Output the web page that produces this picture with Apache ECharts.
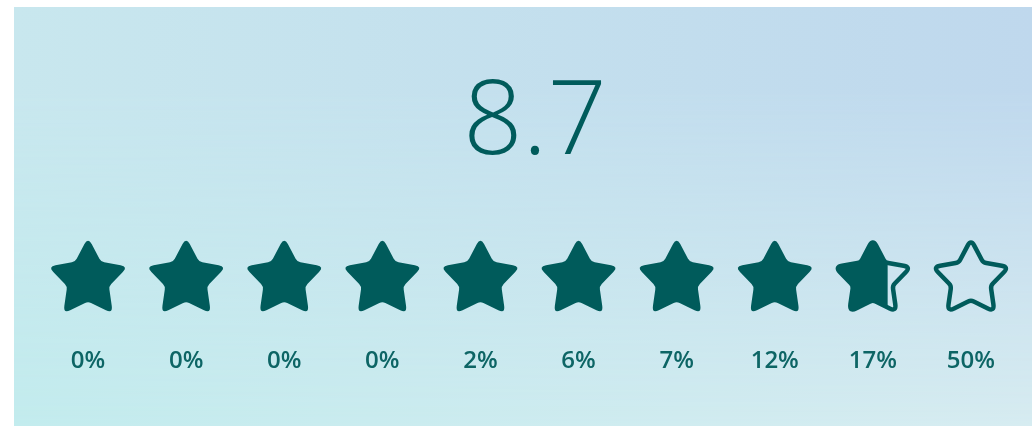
<!DOCTYPE html>
<html>
<head>
<meta charset="utf-8">
<script src="https://cdn.jsdelivr.net/npm/echarts@6/dist/echarts.min.js"></script>
<style>
  html, body { margin: 0; padding: 0; background: #fff; }
  #card {
    position: absolute; left: 14px; top: 7px; width: 1018px; height: 419px;
    background: linear-gradient(to right, #c3ecee, #d7ecf1);
    overflow: hidden;
  }
  #card::before {
    content: ""; position: absolute; inset: 0;
    background: linear-gradient(to right, #c8e7ee, #bfd8ed);
    -webkit-mask-image: linear-gradient(to bottom, #000 0%, #000 20%, transparent 100%);
    mask-image: linear-gradient(to bottom, #000 0%, #000 20%, transparent 100%);
  }
  #chart { position: absolute; left: 0; top: 0; width: 1018px; height: 419px; }
</style>
</head>
<body>
<div id="card"><div id="chart"></div></div>
<script>
// rating buckets 1..10 and the share shown under each star
const levels = ["1", "2", "3", "4", "5", "6", "7", "8", "9", "10"];
const shares = ["0%", "0%", "0%", "0%", "2%", "6%", "7%", "12%", "17%", "50%"];
// how much of each star is filled
const starFill = [1, 1, 1, 1, 1, 1, 1, 1, 0.7, 0];
const score = "8.7";

const TEAL = "#005b5b";
const STAR_W = 74;
const STAR_H = 72;

// rounded five-point star, built once as an svg path
function starPath() {
  const pts = [];
  for (let i = 0; i < 10; i++) {
    const r = i % 2 === 0 ? 1 : 0.52;
    const a = -Math.PI / 2 + (i * Math.PI) / 5;
    pts.push([r * Math.cos(a), r * Math.sin(a)]);
  }
  let d = "";
  for (let i = 0; i < 10; i++) {
    const v = pts[i];
    const p = pts[(i + 9) % 10];
    const n = pts[(i + 1) % 10];
    const t = i % 2 === 0 ? 0.28 : 0.12;
    const a = [v[0] + (p[0] - v[0]) * t, v[1] + (p[1] - v[1]) * t];
    const b = [v[0] + (n[0] - v[0]) * t, v[1] + (n[1] - v[1]) * t];
    d += (i === 0 ? "M" : "L") + a[0].toFixed(4) + " " + a[1].toFixed(4);
    d += "Q" + v[0].toFixed(4) + " " + v[1].toFixed(4) + " " + b[0].toFixed(4) + " " + b[1].toFixed(4);
  }
  return d + "Z";
}
const STAR = starPath();

const chart = echarts.init(document.getElementById("chart"));
chart.setOption({
  animation: false,
  title: {
    text: score,
    left: 516,
    top: 60,
    textAlign: "center",
    textStyle: { color: TEAL, fontSize: 104, fontWeight: 300, fontFamily: "Open Sans" },
  },
  grid: { left: 25, right: 12, top: 208, bottom: 89 },
  xAxis: {
    type: "category",
    data: levels,
    axisLine: { show: false },
    axisTick: { show: false },
    axisLabel: {
      margin: 12,
      color: "#0d6565",
      fontSize: 24,
      fontWeight: 600,
      fontFamily: "Open Sans",
      formatter: (v, i) => shares[i],
    },
  },
  yAxis: { type: "value", min: 0, max: 2, show: false },
  series: [
    {
      type: "custom",
      data: starFill.map((f, i) => [i, 1, f]),
      renderItem: (params, api) => {
        const c = api.coord([api.value(0), api.value(1)]);
        const f = api.value(2);
        const x0 = c[0] - STAR_W / 2;
        const y0 = c[1] - STAR_H / 2;
        const children = [];
        if (f < 1) {
          children.push({
            type: "path",
            shape: { pathData: STAR, x: x0 + 2, y: y0 + 2, width: STAR_W - 4, height: STAR_H - 4, layout: "center" },
            style: { fill: "none", stroke: TEAL, lineWidth: 4.5, lineJoin: "round" },
          });
        }
        if (f > 0) {
          const el = {
            type: "path",
            shape: { pathData: STAR, x: x0, y: y0, width: STAR_W, height: STAR_H, layout: "center" },
            style: { fill: TEAL },
          };
          if (f < 1) {
            el.clipPath = { type: "rect", shape: { x: x0, y: y0 - 2, width: STAR_W * f, height: STAR_H + 4 } };
          }
          children.push(el);
        }
        return { type: "group", children };
      },
    },
  ],
});
</script>
</body>
</html>
